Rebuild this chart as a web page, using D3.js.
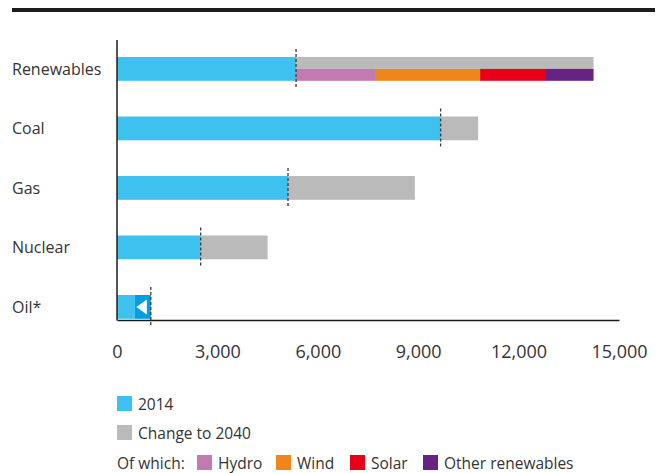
<!DOCTYPE html>
<html>
<head>
<meta charset="utf-8">
<script src="https://cdn.jsdelivr.net/npm/d3@7"></script>
<style>
  html, body { margin: 0; padding: 0; background: #fff; }
  svg { display: block; font-family: "Open Sans", "Noto Sans", sans-serif; }
</style>
</head>
<body>
<svg id="chart" width="666" height="473"></svg>
<script>
// Electricity generation by source: 2014 level and change to 2040
const categories = ["Renewables", "Coal", "Gas", "Nuclear", "Oil*"];
const values2014 = [5350, 9670, 5110, 2500, 1010];
const change2040 = [8890, 1120, 3790, 2000, -480];

// Breakdown of the renewables increase
const renewParts = ["Hydro", "Wind", "Solar", "Other renewables"];
const renewValues = [2360, 3140, 1940, 1450];
const renewColors = ["#c17bb0", "#f08519", "#e60019", "#662383"];

const xTicks = [0, 3000, 6000, 9000, 12000, 15000];

const colBase = "#3fc1f0";
const colChange = "#bababa";
const colDecline = "#009fe3";
const textCol = "#333333";

const svg = d3.select("#chart");

const x = d3.scaleLinear().domain([0, 15000]).range([117, 619]);
const y = d3.scaleBand().domain(categories).range([39.15, 336.65])
  .paddingInner(0.6).paddingOuter(0.3);
const bw = y.bandwidth();

// Top rule
svg.append("rect").attr("x", 12).attr("y", 8).attr("width", 643).attr("height", 4)
  .attr("fill", "#1d1d1b");

// Category labels
svg.append("g").selectAll("text").data(categories).join("text")
  .attr("x", 12).attr("y", d => y(d) + bw / 2)
  .attr("dy", "0.35em")
  .attr("font-size", 16).attr("fill", textCol)
  .text(d => d);

const rows = categories.map((c, i) => ({ cat: c, base: values2014[i], change: change2040[i] }));

// 2014 bars
const g = svg.append("g");
g.selectAll("rect.base").data(rows).join("rect")
  .attr("class", "base")
  .attr("x", x(0))
  .attr("y", d => y(d.cat))
  .attr("width", d => x(Math.min(d.base, d.base + d.change)) - x(0))
  .attr("height", bw)
  .attr("fill", colBase);

// Change to 2040 (increase in grey, decline in darker blue)
g.selectAll("rect.change").data(rows).join("rect")
  .attr("class", "change")
  .attr("x", d => x(Math.min(d.base, d.base + d.change)))
  .attr("y", d => y(d.cat))
  .attr("width", d => Math.abs(x(d.base + d.change) - x(d.base)))
  .attr("height", d => d.cat === "Renewables" ? bw / 2 : bw)
  .attr("fill", d => d.change < 0 ? colDecline : colChange);

// Renewables increase split by source (lower half of bar)
const renew = rows[0];
let acc = renew.base;
const stacked = renewValues.map((v, i) => {
  const s = { start: acc, end: acc + v, color: renewColors[i] };
  acc += v;
  return s;
});
g.selectAll("rect.part").data(stacked).join("rect")
  .attr("class", "part")
  .attr("x", d => x(d.start))
  .attr("y", y(renew.cat) + bw / 2)
  .attr("width", d => x(d.end) - x(d.start))
  .attr("height", bw / 2)
  .attr("fill", d => d.color);

// Decline arrow for oil
rows.filter(d => d.change < 0).forEach(d => {
  const x0 = x(d.base + d.change), x1 = x(d.base);
  const cy = y(d.cat) + bw / 2;
  const w = x1 - x0;
  const tipX = x0 + w * 0.1, baseX = x0 + w * 0.75;
  g.append("path")
    .attr("d", `M${tipX},${cy} L${baseX},${cy - 7.5} L${baseX},${cy + 7.5} Z`)
    .attr("fill", "#ffffff");
});

// Dashed markers at the 2014 level
g.selectAll("line.mark").data(rows).join("line")
  .attr("class", "mark")
  .attr("x1", d => x(d.base)).attr("x2", d => x(d.base))
  .attr("y1", d => y(d.cat) - 8).attr("y2", d => y(d.cat) + bw + 8)
  .attr("stroke", "#3a3a3a").attr("stroke-width", 1.3)
  .attr("stroke-dasharray", "3,2");

// Axes
svg.append("line").attr("x1", x(0)).attr("x2", x(0)).attr("y1", 40).attr("y2", 320.5)
  .attr("stroke", "#1d1d1b").attr("stroke-width", 1.5);

const xAxis = svg.append("g").attr("transform", "translate(0,320)")
  .call(d3.axisBottom(x).tickValues(xTicks).tickSize(0).tickPadding(32)
    .tickFormat(d3.format(",")));
xAxis.select(".domain").attr("stroke", "#1d1d1b").attr("stroke-width", 1.5);
xAxis.selectAll("text").attr("font-size", 18).attr("fill", textCol)
  .attr("dy", "0.35em")
  .attr("font-family", "\"Open Sans\", \"Noto Sans\", sans-serif");

// Legend
const leg = svg.append("g");
const legItems = [
  { label: "2014", color: colBase, y: 396 },
  { label: "Change to 2040", color: colChange, y: 425 }
];
leg.selectAll("rect.li").data(legItems).join("rect")
  .attr("class", "li")
  .attr("x", 117).attr("y", d => d.y).attr("width", 15).attr("height", 15)
  .attr("fill", d => d.color);
leg.selectAll("text.li").data(legItems).join("text")
  .attr("class", "li")
  .attr("x", 138).attr("y", d => d.y + 8).attr("dy", "0.38em")
  .attr("font-size", 15.5).attr("fill", textCol)
  .text(d => d.label);

leg.append("text").attr("x", 117).attr("y", 463).attr("dy", "0.38em")
  .attr("font-size", 15.5).attr("fill", textCol).text("Of which:");
const partX = [197, 276, 350, 423];
leg.selectAll("rect.pi").data(renewParts).join("rect")
  .attr("class", "pi")
  .attr("x", (d, i) => partX[i]).attr("y", 455).attr("width", 15).attr("height", 15)
  .attr("fill", (d, i) => renewColors[i]);
leg.selectAll("text.pi").data(renewParts).join("text")
  .attr("class", "pi")
  .attr("x", (d, i) => partX[i] + 21).attr("y", 463).attr("dy", "0.38em")
  .attr("font-size", 15.5).attr("fill", textCol)
  .text(d => d);
</script>
</body>
</html>
